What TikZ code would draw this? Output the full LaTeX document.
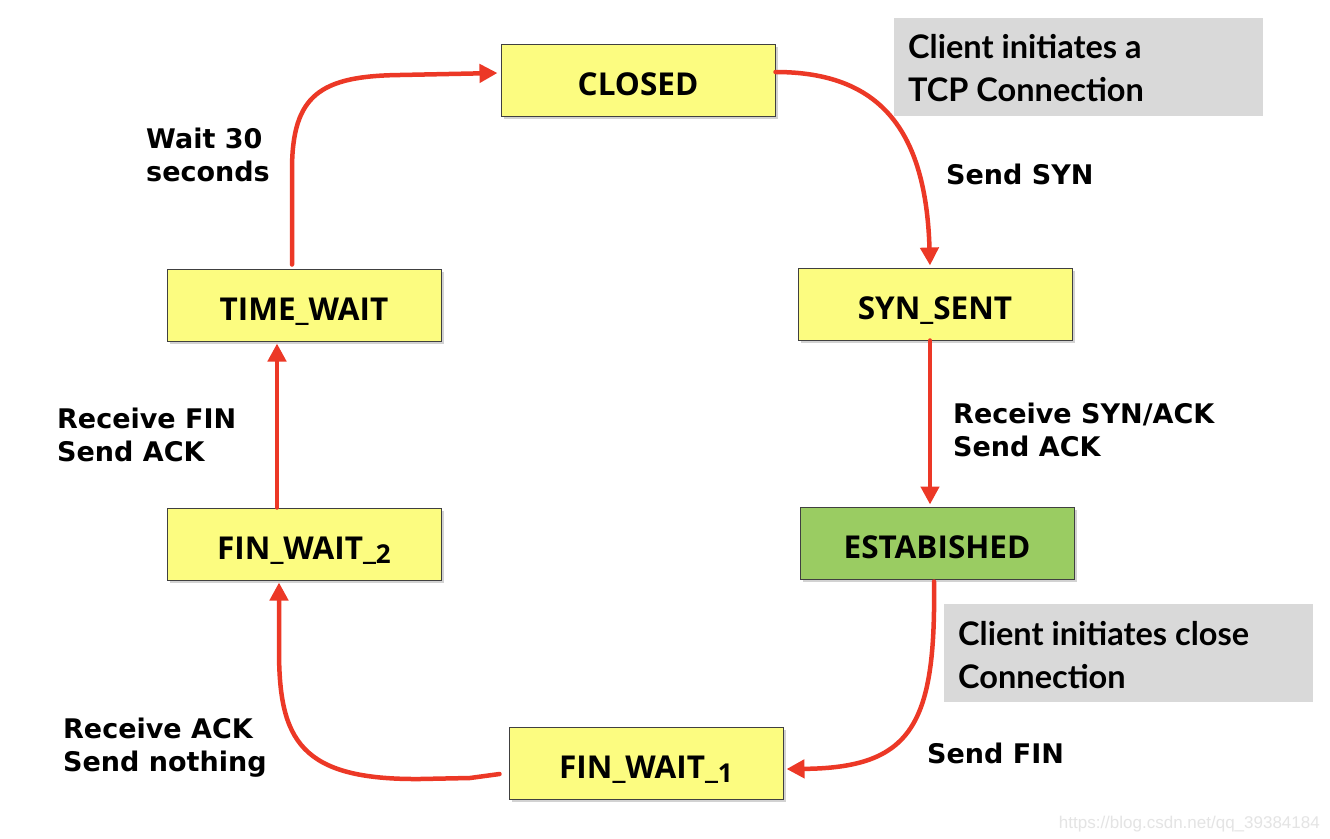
\documentclass[tikz,border=0pt]{standalone}
\usepackage{fontspec}
\setmainfont{DejaVu Sans}
\newfontfamily\nodefont{Open Sans}
\newfontfamily\grayfont{Lato}
\newfontfamily\lblfont{DejaVu Sans}
\newfontfamily\wmfont{Liberation Sans}
\usetikzlibrary{arrows.meta,shadows}
\definecolor{stateyellow}{RGB}{252,252,128}
\definecolor{stategreen}{RGB}{154,204,98}
\definecolor{notegray}{RGB}{217,217,217}
\definecolor{arrowred}{RGB}{236,56,38}
\definecolor{wmgray}{RGB}{228,228,228}
\newcommand{\lowdigit}[1]{\raisebox{-4pt}{\fontsize{26}{26}\selectfont #1}}
\tikzset{
  statebox/.style={draw=black!75, line width=1pt, fill=stateyellow, minimum width=274pt, minimum height=72pt,
    inner sep=0pt, text height=31pt, text depth=0pt, font=\nodefont\bfseries\fontsize{31.5}{31.5}\selectfont,
    drop shadow={shadow xshift=3pt, shadow yshift=-3pt, opacity=0.35}},
  greenbox/.style={statebox, fill=stategreen},
  notebox/.style={fill=notegray, minimum width=369pt, minimum height=98pt, inner sep=0pt},
  notetext/.style={anchor=north west, inner sep=0pt, align=left, font=\grayfont\bfseries\fontsize{32.5}{43}\selectfont},
  lbl/.style={anchor=north west, inner sep=0pt, align=left, font=\lblfont\bfseries\fontsize{27}{33}\selectfont},
  trans/.style={draw=arrowred, line width=4.5pt, line cap=round, line join=round,
    -{Triangle[length=18pt,width=18pt]}},
}
\begin{document}
\begin{tikzpicture}[x=1pt,y=-1pt]
\useasboundingbox[fill=white] (0,0) rectangle (1330,838);

% note boxes
\node[notebox, anchor=north west] (note1) at (894,18) {};
\node[notetext] (note1t) at (908,34) {Client initiates a\\TCP Connection};
\node[notebox, anchor=north west] (note2) at (944,604) {};
\node[notetext] (note2t) at (958,621) {Client initiates close\\Connection};

% states
\node[statebox] (closed) at (638,80) {CLOSED};
\node[statebox] (synsent) at (935,304) {SYN\_SENT};
\node[greenbox] (est) at (937,543) {ESTABISHED};
\node[statebox] (fw1) at (646,763) {FIN\_WAIT\_\lowdigit{1}};
\node[statebox] (fw2) at (304,544) {FIN\_WAIT\_\lowdigit{2}};
\node[statebox] (tw) at (304,305) {TIME\_WAIT};

% transitions
\draw[trans] ([yshift=8pt]closed.east) .. controls (880,72) and (926,130) .. ([xshift=-5pt,yshift=2pt]synsent.north);
\draw[trans] ([xshift=-5pt]synsent.south) -- ([xshift=-7pt,yshift=2pt]est.north);
\draw[trans] ([xshift=-3pt,yshift=-2pt]est.south) .. controls (936,725) and (912,768) .. ([xshift=3pt,yshift=-6pt]fw1.east);
\draw[trans] ([xshift=-9pt,yshift=-11pt]fw1.west) -- (470,778) -- (420,779) .. controls (300,780) and (279,740) .. (279,650) -- ([xshift=-25pt,yshift=-2pt]fw2.south);
\draw[trans] ([xshift=-27pt]fw2.north) -- ([xshift=-27pt,yshift=-2pt]tw.south);
\draw[trans] ([xshift=-12pt,yshift=4pt]tw.north) -- (292,170) .. controls (292,95) and (320,76) .. (400,75) -- ([xshift=-3pt,yshift=7pt]closed.west);

% labels
\node[lbl] (l1) at (146,128) {Wait 30\\seconds};
\node[lbl] (l2) at (946,164) {Send SYN};
\node[lbl] (l3) at (953,403) {Receive SYN/ACK\\Send ACK};
\node[lbl] (l4) at (57,408) {Receive FIN\\Send ACK};
\node[lbl] (l5) at (63,718) {Receive ACK\\Send nothing};
\node[lbl] (l6) at (927,743) {Send FIN};

% watermark
\node[anchor=base east, inner sep=0pt, text=wmgray, font=\wmfont\fontsize{17}{17}\selectfont] (wm) at (1320,828) {https://blog.csdn.net/qq\_39384184};
\end{tikzpicture}
\end{document}
